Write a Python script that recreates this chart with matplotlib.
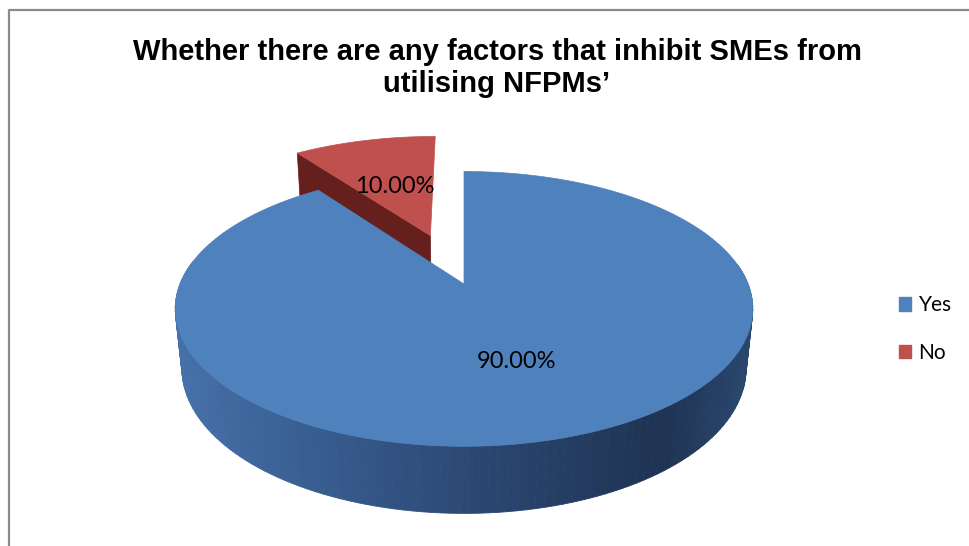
import numpy as np
import matplotlib
matplotlib.use("Agg")
import matplotlib.pyplot as plt
from matplotlib.patches import Polygon, Patch
from matplotlib.colors import LinearSegmentedColormap

# chart data
labels = ["Yes", "No"]
shares = [90.0, 10.0]
pct_labels = ["90.00%", "10.00%"]
top_colors = ["#4f81bd", "#c0504d"]
explode = [0.0, 0.41]

title = "Whether there are any factors that inhibit SMEs from\nutilising NFPMs\u2019"

# 3d pie "camera" (pixel units, y grows downwards)
CX, CY = 464, 284
tilt = np.radians(27.9)
dist = 4.88
focal = 284 * dist
thick = 0.24

wall_cmap = LinearSegmentedColormap.from_list(
    "wall", [(0, "#4671aa"), (0.3, "#35598a"), (0.6, "#28436b"),
             (0.85, "#1f3353"), (1.0, "#2a476e")])


def project(X, Y, Z):
    c, s = np.cos(tilt), np.sin(tilt)
    up = Y * s + Z * c
    depth = Y * c - Z * s
    k = focal / (dist + depth)
    return CX + X * k, CY - up * k


def draw_slice(ax, a0, a1, ex, top_col, side_col):
    mid = (a0 + a1) / 2
    ox, oy = ex * np.sin(mid), ex * np.cos(mid)
    phi = np.linspace(a0, a1, 200)
    X = ox + np.sin(phi)
    Y = oy + np.cos(phi)

    # outer wall, back to front
    xt, yt = project(X, Y, 0 * X)
    xb, yb = project(X, Y, 0 * X - thick)
    order = np.argsort(-Y[:-1])
    for i in order:
        if np.cos(phi[i]) > 0.15:
            continue
        t = (xt[i] - (CX - 290)) / 580
        col = wall_cmap(np.clip(t, 0, 1))
        pts = [(xt[i], yt[i]), (xt[i + 1], yt[i + 1]), (xb[i + 1], yb[i + 1]), (xb[i], yb[i])]
        ax.add_patch(Polygon(pts, closed=True, fc=col, ec=col, lw=0.6))

    # radial face at the start of the slice (faces the viewer for the small slice)
    if side_col is not None:
        ex0, ey0 = ox + np.sin(a0), oy + np.cos(a0)
        p = [project(ox, oy, 0), project(ex0, ey0, 0),
             project(ex0, ey0, -thick), project(ox, oy, -thick)]
        ax.add_patch(Polygon(p, closed=True, fc=side_col, ec=side_col, lw=0.5))

    # top face
    cx0, cy0 = project(ox, oy, 0)
    pts = [(cx0, cy0)] + list(zip(xt, yt))
    ax.add_patch(Polygon(pts, closed=True, fc=top_col, ec=top_col, lw=0.5))
    return ox, oy, mid


fig = plt.figure(figsize=(9.69, 5.46), dpi=100)
ax = fig.add_axes([0, 0, 1, 1])
ax.set_xlim(0, 969)
ax.set_ylim(546, 0)
ax.axis("off")

# frame of the chart area
ax.plot([9.5, 9.5, 969], [546, 9.5, 9.5], color="#8c8c8c", lw=1.6, solid_capstyle="butt")

# slice angles (clockwise from 12 o'clock)
bounds = np.concatenate([[0], np.cumsum(shares)]) / sum(shares) * 2 * np.pi
draw_order = [1, 0]
side_cols = {1: "#65201d", 0: None}
info = {}
for i in draw_order:
    info[i] = draw_slice(ax, bounds[i], bounds[i + 1], explode[i], top_colors[i], side_cols[i])

label_r = [0.54, 0.5]
for i in range(len(shares)):
    ox, oy, mid = info[i]
    lx, ly = project(ox + label_r[i] * np.sin(mid), oy + label_r[i] * np.cos(mid), 0)
    ax.text(lx, ly + 2, pct_labels[i], ha="center", va="center", fontsize=17,
            family="Lato", color="black")

ax.text(497, 68, title, ha="center", va="center", fontsize=21, fontweight="bold",
        family="Liberation Sans", linespacing=1.2)

handles = [Patch(fc=c, ec=c) for c in top_colors]
ax.legend(handles, labels, loc="center left", bbox_to_anchor=(880 / 969, 1 - 329 / 546),
          frameon=False, handlelength=0.6, handleheight=0.6, handletextpad=0.35,
          labelspacing=1.3, prop={"family": "Lato", "size": 15})

fig.savefig("out.png", dpi=100)
